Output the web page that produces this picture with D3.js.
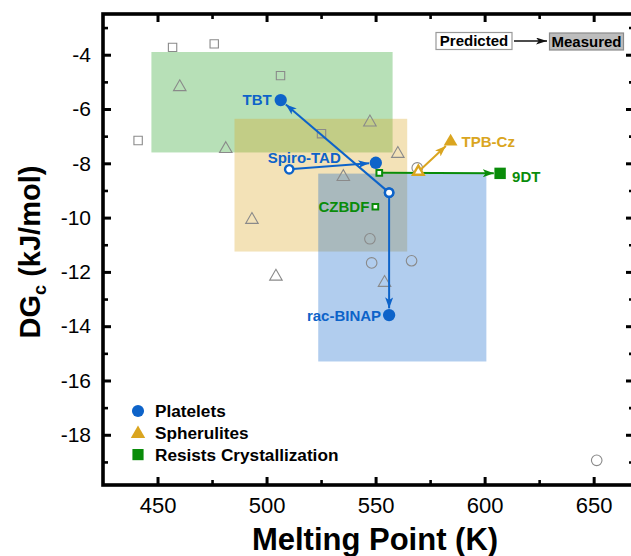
<!DOCTYPE html>
<html><head><meta charset="utf-8">
<script src="https://cdn.jsdelivr.net/npm/d3@7"></script>
<style>
html,body{margin:0;padding:0;background:#fff;}
svg{display:block;font-family:"Liberation Sans",Arial,sans-serif;}
</style></head>
<body>
<svg id="chart" width="631" height="556"></svg>
<script>
// ---------- data ----------
const xTicks = [450, 500, 550, 600, 650];
const xMinor = [475, 525, 575, 625];
const yTicks = [-4, -6, -8, -10, -12, -14, -16, -18];
const yMinor = [-3, -5, -7, -9, -11, -13, -15, -17, -19];

// gray reference markers (melting point K, DGc kJ/mol)
const grayCircleX = [547.4, 548.2, 566.5, 569.1, 651.4];
const grayCircleY = [-10.78, -11.67, -11.59, -8.17, -18.94];
const graySquareX = [456.9, 476.0, 506.4, 441.1, 525.2];
const graySquareY = [-3.73, -3.60, -4.77, -7.16, -6.91];
const grayTriX = [460.2, 481.3, 493.3, 504.3, 547.4, 560.2, 535.2, 554.1];
const grayTriY = [-5.19, -7.47, -10.08, -12.17, -6.49, -7.65, -8.50, -12.40];

// shaded regions: [x0, x1, y0, y1]
const regionNames = ["Resists", "Spherulites", "Platelets"];
const regionX0 = [447.2, 485.3, 523.7];
const regionX1 = [557.8, 564.5, 600.8];
const regionY0 = [-3.9, -6.36, -8.38];
const regionY1 = [-7.6, -11.25, -15.3];

// molecules: predicted -> measured
const molNames  = ["TBT", "Spiro-TAD", "rac-BINAP", "TPB-Cz", "9DT", "CZBDF"];
const molClass  = ["Platelets", "Platelets", "Platelets", "Spherulites", "Resists", "Resists"];
const predX = [556.2, 510.4, 556.2, 569.6, 551.7, 549.9];
const predY = [-9.08, -8.22, -9.08, -8.31, -8.35, -9.60];
const measX = [506.5, 550.1, 556.2, 584.4, 607.1, null];
const measY = [-5.67, -7.98, -13.59, -7.20, -8.37, null];

const legendNames = ["Platelets", "Spherulites", "Resists Crystallization"];

// ---------- setup ----------
const colors = {Platelets: "#0d63c9", Spherulites: "#daa520", Resists: "#0a8c0a"};
const shapes = {Platelets: d3.symbolCircle, Spherulites: d3.symbolTriangle, Resists: d3.symbolSquare};
const gray = "#8a8a8a";

const svg = d3.select("#chart");
const L = 103, R = 634, T = 14, B = 485;
const x = d3.scaleLinear().domain([425, 668.5]).range([L, R]);
const y = d3.scaleLinear().domain([-2.5, -19.85]).range([T, B]);

const defs = svg.append("defs");
function addArrow(id, color, w, h) {
  defs.append("marker").attr("id", id)
    .attr("markerUnits", "userSpaceOnUse")
    .attr("viewBox", `0 0 ${w} ${h}`)
    .attr("refX", w).attr("refY", h / 2)
    .attr("markerWidth", w).attr("markerHeight", h)
    .attr("orient", "auto")
    .append("path").attr("d", `M0,0L${w},${h/2}L0,${h}L${w*0.25},${h/2}Z`).attr("fill", color);
}
addArrow("arr-Platelets", colors.Platelets, 11, 8);
addArrow("arr-Spherulites", colors.Spherulites, 11, 8);
addArrow("arr-Resists", colors.Resists, 11, 8);
addArrow("arr-black", "#111", 11, 7);

// ---------- regions ----------
const regionFill = {Resists: "#1f9e1f", Spherulites: "#daa520", Platelets: "#0d63c9"};
svg.append("g").selectAll("rect").data(regionNames).join("rect")
  .attr("x", (d, i) => x(regionX0[i]))
  .attr("y", (d, i) => y(regionY0[i]))
  .attr("width", (d, i) => x(regionX1[i]) - x(regionX0[i]))
  .attr("height", (d, i) => y(regionY1[i]) - y(regionY0[i]))
  .attr("fill", d => regionFill[d])
  .attr("fill-opacity", 0.32);

// ---------- gray markers ----------
const gGray = svg.append("g").attr("fill", "none").attr("stroke", gray).attr("stroke-width", 1.1);
gGray.selectAll("path.c").data(grayCircleX).join("path").attr("class", "c")
  .attr("d", d3.symbol(d3.symbolCircle, 88))
  .attr("transform", (d, i) => `translate(${x(d)},${y(grayCircleY[i])})`);
gGray.selectAll("path.s").data(graySquareX).join("path").attr("class", "s")
  .attr("d", d3.symbol(d3.symbolSquare, 70))
  .attr("transform", (d, i) => `translate(${x(d)},${y(graySquareY[i])})`);
gGray.selectAll("path.t").data(grayTriX).join("path").attr("class", "t")
  .attr("d", d3.symbol(d3.symbolTriangle, 68))
  .attr("transform", (d, i) => `translate(${x(d)},${y(grayTriY[i])})`);

// ---------- arrows ----------
const measSize = {Platelets: 6.2, Spherulites: 6, Resists: 5.8};
const gArr = svg.append("g");
molNames.forEach((n, i) => {
  if (measX[i] == null) return;
  const c = molClass[i];
  const x0 = x(predX[i]), y0 = y(predY[i]), x1 = x(measX[i]), y1 = y(measY[i]);
  const dx = x1 - x0, dy = y1 - y0, len = Math.hypot(dx, dy);
  const cut = measSize[c] + 0.5;
  gArr.append("line")
    .attr("x1", x0).attr("y1", y0)
    .attr("x2", x1 - dx / len * cut).attr("y2", y1 - dy / len * cut)
    .attr("stroke", colors[c]).attr("stroke-width", 2)
    .attr("marker-end", `url(#arr-${c})`);
});

// ---------- predicted (open) and measured (filled) markers ----------
const predArea = {Platelets: 55, Spherulites: 48, Resists: 32};
const measArea = {Platelets: 120, Spherulites: 82, Resists: 130};
const gPts = svg.append("g");
molNames.forEach((n, i) => {
  const c = molClass[i];
  gPts.append("path")
    .attr("d", d3.symbol(shapes[c], predArea[c]))
    .attr("transform", `translate(${x(predX[i])},${y(predY[i])})`)
    .attr("fill", "#fff").attr("stroke", colors[c]).attr("stroke-width", c === "Resists" ? 2 : 2.4);
  if (measX[i] != null) {
    gPts.append("path")
      .attr("d", d3.symbol(shapes[c], measArea[c]))
      .attr("transform", `translate(${x(measX[i])},${y(measY[i])})`)
      .attr("fill", colors[c]);
  }
});

// ---------- molecule labels ----------
const labOff = {
  "TBT":       {ref: "meas", dx: -9,  dy: 0,   anchor: "end"},
  "Spiro-TAD": {ref: "pred", dx: 15,  dy: -12, anchor: "middle"},
  "rac-BINAP": {ref: "meas", dx: -8,  dy: 1,   anchor: "end"},
  "TPB-Cz":    {ref: "meas", dx: 11,  dy: 0,   anchor: "start"},
  "9DT":       {ref: "meas", dx: 12,  dy: 3,   anchor: "start"},
  "CZBDF":     {ref: "pred", dx: -6,  dy: 0,   anchor: "end"}
};
molNames.forEach((n, i) => {
  const o = labOff[n];
  const px = o.ref === "meas" ? x(measX[i]) : x(predX[i]);
  const py = o.ref === "meas" ? y(measY[i]) : y(predY[i]);
  svg.append("text").text(n)
    .attr("x", px + o.dx).attr("y", py + o.dy)
    .attr("dy", "0.36em")
    .attr("text-anchor", o.anchor)
    .attr("font-size", 15).attr("font-weight", "bold")
    .attr("fill", colors[molClass[i]]);
});

// ---------- axes ----------
const axG = svg.append("g").attr("font-family", "'Liberation Sans',Arial,sans-serif");
function styleAxis(g, w, fs) {
  g.select(".domain").remove();
  g.selectAll(".tick line").attr("stroke", "#000").attr("stroke-width", w);
  g.selectAll(".tick text").attr("font-size", fs).attr("fill", "#000");
}
axG.append("g").attr("transform", `translate(0,${B})`)
  .call(d3.axisBottom(x).tickValues(xTicks).tickSize(-8).tickPadding(12).tickFormat(d3.format("d")))
  .call(g => styleAxis(g, 3, 22));
axG.append("g").attr("transform", `translate(0,${B})`)
  .call(d3.axisBottom(x).tickValues(xMinor).tickSize(-5).tickFormat(""))
  .call(g => styleAxis(g, 2.6, 0));
axG.append("g").attr("transform", `translate(0,${T})`)
  .call(d3.axisTop(x).tickValues(xTicks).tickSize(-8).tickFormat(""))
  .call(g => styleAxis(g, 3, 0));
axG.append("g").attr("transform", `translate(0,${T})`)
  .call(d3.axisTop(x).tickValues(xMinor).tickSize(-5).tickFormat(""))
  .call(g => styleAxis(g, 2.6, 0));
axG.append("g").attr("transform", `translate(${L},0)`)
  .call(d3.axisLeft(y).tickValues(yTicks).tickSize(-8).tickPadding(12).tickFormat(d => d3.format("d")(d).replace("−", "-")))
  .call(g => styleAxis(g, 3, 21));
axG.append("g").attr("transform", `translate(${L},0)`)
  .call(d3.axisLeft(y).tickValues(yMinor).tickSize(-5).tickFormat(""))
  .call(g => styleAxis(g, 2.6, 0));
axG.append("g").attr("transform", `translate(${R},0)`)
  .call(d3.axisRight(y).tickValues(yTicks).tickSize(-8).tickFormat(""))
  .call(g => styleAxis(g, 3, 0));
axG.append("g").attr("transform", `translate(${R},0)`)
  .call(d3.axisRight(y).tickValues(yMinor).tickSize(-5).tickFormat(""))
  .call(g => styleAxis(g, 2.6, 0));
svg.append("rect").attr("x", L).attr("y", T).attr("width", R - L).attr("height", B - T)
  .attr("fill", "none").attr("stroke", "#000").attr("stroke-width", 3.6);

// ---------- axis titles ----------
svg.append("text").attr("x", 375).attr("y", 550).attr("text-anchor", "middle")
  .attr("font-size", 31).attr("font-weight", "bold").text("Melting Point (K)");
const yt = svg.append("text").attr("transform", "translate(40,252) rotate(-90)")
  .attr("text-anchor", "middle").attr("font-size", 29).attr("font-weight", "bold");
yt.append("tspan").text("DG");
yt.append("tspan").attr("font-size", 18).attr("dy", 6).text("c");
yt.append("tspan").attr("dy", -6).text(" (kJ/mol)");

// ---------- bottom-left legend ----------
const lg = svg.append("g");
legendNames.forEach((n, i) => {
  const c = ["Platelets", "Spherulites", "Resists"][i];
  const cy = 411 + i * 21.8;
  lg.append("path")
    .attr("d", d3.symbol(shapes[c], c === "Platelets" ? 115 : c === "Spherulites" ? 90 : 125))
    .attr("transform", `translate(138,${cy + (c === "Spherulites" ? 1 : 0)})`)
    .attr("fill", colors[c]);
  lg.append("text").attr("x", 155).attr("y", cy).attr("dy", "0.36em")
    .attr("font-size", 17.2).attr("font-weight", "bold").text(n);
});

// ---------- predicted -> measured legend ----------
const pl = svg.append("g");
pl.append("rect").attr("x", 436).attr("y", 32.5).attr("width", 76).attr("height", 17)
  .attr("fill", "#fff").attr("stroke", "#999").attr("stroke-width", 1.2);
pl.append("text").attr("x", 474).attr("y", 41).attr("dy", "0.36em").attr("text-anchor", "middle")
  .attr("font-size", 15).attr("font-weight", "bold").text("Predicted");
pl.append("line").attr("x1", 514).attr("y1", 41).attr("x2", 547).attr("y2", 41)
  .attr("stroke", "#111").attr("stroke-width", 1.3).attr("marker-end", "url(#arr-black)");
pl.append("rect").attr("x", 549.5).attr("y", 33).attr("width", 74).attr("height", 17)
  .attr("fill", "#bdbdbd").attr("stroke", "#8a8a8a").attr("stroke-width", 1.2);
pl.append("text").attr("x", 586.5).attr("y", 41.5).attr("dy", "0.36em").attr("text-anchor", "middle")
  .attr("font-size", 15).attr("font-weight", "bold").text("Measured");
</script>
</body></html>
